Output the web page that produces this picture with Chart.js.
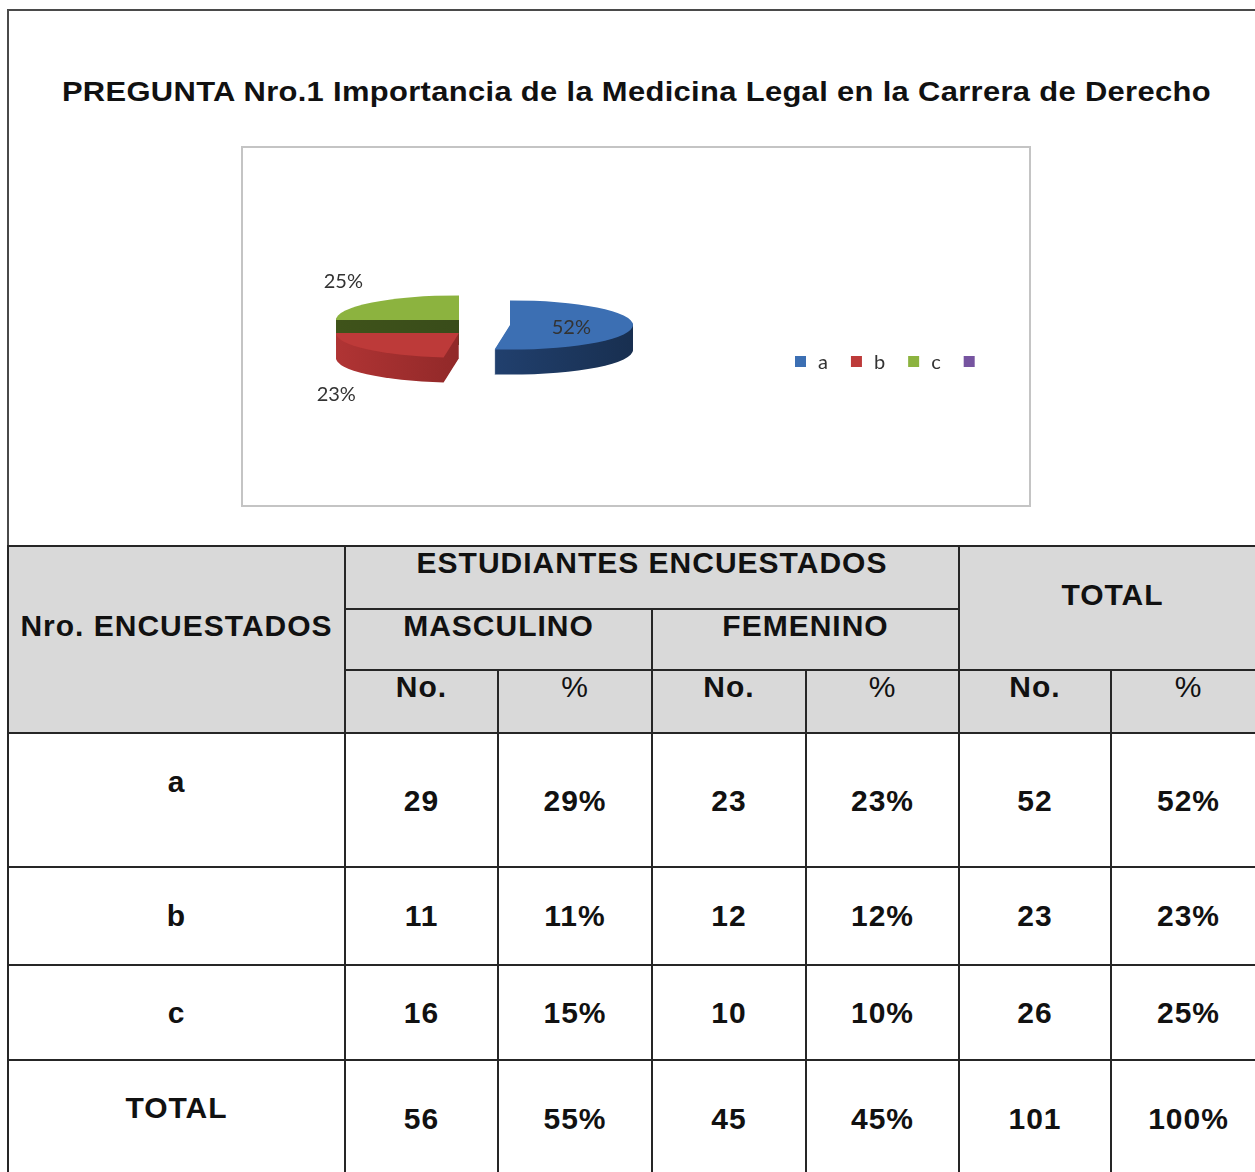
<!DOCTYPE html>
<html>
<head>
<meta charset="utf-8">
<script src="https://cdn.jsdelivr.net/npm/chart.js@4.4.1/dist/chart.umd.min.js"></script>
<style>
html, body { margin: 0; padding: 0; background: #fff; }
body { width: 1255px; height: 1172px; overflow: hidden; position: relative; font-family: "Liberation Sans", Arial, sans-serif; color: #111; }
#frame { position: absolute; left: 7px; top: 9px; width: 1300px; height: 539px; border: 2px solid #4a4a4a; box-sizing: border-box; }
#title { position: absolute; left: 9px; width: 1255px; top: 76px; text-align: center; font-weight: bold; font-size: 28px; line-height: 32px; white-space: nowrap; }
#title span { display: inline-block; letter-spacing: 0.3px; }
#box { position: absolute; left: 241px; top: 146px; width: 790px; height: 361px; border: 2px solid #c4c4c4; box-sizing: border-box; background: #fff; }
#box canvas { position: absolute; left: 0; top: 0; }
.cell { position: absolute; border: 2px solid #262626; box-sizing: border-box; }
.txt { position: absolute; text-align: center; font-weight: bold; font-size: 30px; letter-spacing: 1px; line-height: 34px; white-space: nowrap; }
</style>
</head>
<body>
<div id="frame"></div>
<div id="title"><span>PREGUNTA Nro.1 Importancia de la Medicina Legal en la Carrera de Derecho</span></div>
<div id="box"><canvas id="pie" width="786" height="357"></canvas></div>
<div id="table"></div>
<script>
// pie data
const labels = ['a', 'b', 'c', ''];
const pieValues = [52, 23, 25, 0];
const pieColors = ['#3c6fb3', '#bd3a39', '#8cb33f', '#7654a0'];
const sideColors = [['#2b5390', '#182f50'], ['#b03434', '#721d1d'], ['#3f531a', '#33451a'], ['#55397a', '#3a2754']];
// slice shifts on screen (exploded blue, slightly dropped red)
const explodeX = [51, 0, 0, 0];
const explodeY = [5, 13, 0, 0];

// table data
const rowLabels = ['a', 'b', 'c'];
const mascNo = [29, 11, 16];
const mascPct = [29, 11, 15];
const femNo = [23, 12, 10];
const femPct = [23, 12, 10];
const totNo = [52, 23, 26];
const totPct = [52, 23, 25];
const sumRow = ['56', '55%', '45', '45%', '101', '100%'];

// fit the title to its width in the picture
const ts = document.querySelector('#title span');
ts.style.transform = 'scaleX(' + (1149 / ts.getBoundingClientRect().width) + ')';

const tilt = 0.2, depth = 25;
const labelFont = '20px Lato, "Open Sans", sans-serif';

const pie3d = {
  id: 'pie3d',
  beforeDatasetsDraw(chart) {
    const ctx = chart.ctx;
    const arcs = chart.getDatasetMeta(0).data;
    const path = (a, i, dy) => {
      ctx.save();
      ctx.translate(a.x + explodeX[i], a.y + explodeY[i] + dy);
      ctx.scale(1, tilt);
      ctx.beginPath();
      ctx.moveTo(0, 0);
      ctx.arc(0, 0, a.outerRadius, a.startAngle, a.endAngle);
      ctx.closePath();
      ctx.restore();
    };
    // back slices first
    const order = arcs.map((a, i) => i)
      .filter(i => pieValues[i] > 0)
      .sort((p, q) => Math.sin((arcs[p].startAngle + arcs[p].endAngle) / 2) - Math.sin((arcs[q].startAngle + arcs[q].endAngle) / 2));
    order.forEach(i => {
      const a = arcs[i];
      const g = ctx.createLinearGradient(a.x - a.outerRadius, 0, a.x + a.outerRadius + explodeX[i], 0);
      g.addColorStop(0, sideColors[i][0]);
      g.addColorStop(1, sideColors[i][1]);
      for (let d = depth; d >= 1; d--) {
        path(a, i, d);
        ctx.fillStyle = g;
        ctx.fill();
      }
    });
    order.forEach(i => {
      const a = arcs[i];
      path(a, i, 0);
      ctx.fillStyle = pieColors[i];
      ctx.fill();
    });
    return false;
  },
  afterDraw(chart) {
    const ctx = chart.ctx;
    const arcs = chart.getDatasetMeta(0).data;
    const total = pieValues.reduce((s, v) => s + v, 0);
    ctx.save();
    ctx.font = labelFont;
    ctx.fillStyle = '#333';
    ctx.textAlign = 'center';
    ctx.textBaseline = 'middle';
    arcs.forEach((a, i) => {
      if (!pieValues[i]) return;
      const mid = (a.startAngle + a.endAngle) / 2;
      const c = Math.cos(mid), s = Math.sin(mid);
      const x0 = a.x + explodeX[i], y0 = a.y + explodeY[i];
      let x, y;
      if (explodeX[i]) {
        x = x0 + c * a.outerRadius * 0.5;
        y = y0 + a.outerRadius * tilt * 0.1;
      } else {
        x = x0 + c * a.outerRadius * 1.33;
        y = y0 + s * (a.outerRadius * tilt * 1.2 + depth) + (s > 0 ? depth : 0);
      }
      ctx.fillText(Math.round(pieValues[i] / total * 100) + '%', x, y);
    });
    // legend row
    let lx = 552;
    const ly = 214;
    ctx.textAlign = 'left';
    labels.forEach((l, i) => {
      ctx.fillStyle = pieColors[i];
      ctx.fillRect(lx, ly - 6, 11, 11);
      ctx.fillStyle = '#333';
      ctx.fillText(l, lx + 23, ly + 1);
      lx += 11 + 12 + ctx.measureText(l).width + 23;
    });
    ctx.restore();
  }
};

new Chart(document.getElementById('pie'), {
  type: 'pie',
  data: {
    labels: labels,
    datasets: [{
      data: pieValues,
      backgroundColor: pieColors,
      borderWidth: 0
    }]
  },
  options: {
    responsive: false,
    animation: false,
    events: [],
    radius: 123,
    layout: { padding: { left: 0, right: 354, top: 0, bottom: 13 } },
    plugins: { legend: { display: false }, tooltip: { enabled: false } }
  },
  plugins: [pie3d]
});

// table
const colX = [8, 345, 498, 652, 806, 959, 1111, 1266];
const rowY = [546, 609, 670, 733, 867, 965, 1060, 1185];
const tbl = document.getElementById('table');
function cell(c0, c1, r0, r1, bg) {
  const d = document.createElement('div');
  d.className = 'cell';
  d.style.left = (colX[c0] - 1) + 'px';
  d.style.top = (rowY[r0] - 1) + 'px';
  d.style.width = (colX[c1] - colX[c0] + 2) + 'px';
  d.style.height = (rowY[r1] - rowY[r0] + 2) + 'px';
  d.style.background = bg || '#fff';
  tbl.appendChild(d);
}
function text(c0, c1, cy, t, normal) {
  const d = document.createElement('div');
  d.className = 'txt';
  d.style.left = colX[c0] + 'px';
  d.style.width = (colX[c1] - colX[c0]) + 'px';
  d.style.top = (cy - 17) + 'px';
  if (normal) d.style.fontWeight = 'normal';
  d.textContent = t;
  tbl.appendChild(d);
}
const grey = '#d9d9d9';
cell(0, 1, 0, 3, grey); text(0, 1, 626, 'Nro. ENCUESTADOS');
cell(1, 5, 0, 1, grey); text(1, 5, 563, 'ESTUDIANTES ENCUESTADOS');
cell(5, 7, 0, 2, grey); text(5, 7, 595, 'TOTAL');
cell(1, 3, 1, 2, grey); text(1, 3, 626, 'MASCULINO');
cell(3, 5, 1, 2, grey); text(3, 5, 626, 'FEMENINO');
for (let c = 1; c < 7; c++) {
  cell(c, c + 1, 2, 3, grey);
  text(c, c + 1, 687, c % 2 ? 'No.' : '%', c % 2 === 0);
}
const labelY = [782, 916, 1013];
const numY = [801, 916, 1013];
rowLabels.forEach((l, r) => {
  const vals = [mascNo[r], mascPct[r] + '%', femNo[r], femPct[r] + '%', totNo[r], totPct[r] + '%'];
  cell(0, 1, r + 3, r + 4); text(0, 1, labelY[r], l);
  vals.forEach((v, k) => { cell(k + 1, k + 2, r + 3, r + 4); text(k + 1, k + 2, numY[r], String(v)); });
});
cell(0, 1, 6, 7); text(0, 1, 1108, 'TOTAL');
sumRow.forEach((v, k) => { cell(k + 1, k + 2, 6, 7); text(k + 1, k + 2, 1119, v); });
</script>
</body>
</html>
